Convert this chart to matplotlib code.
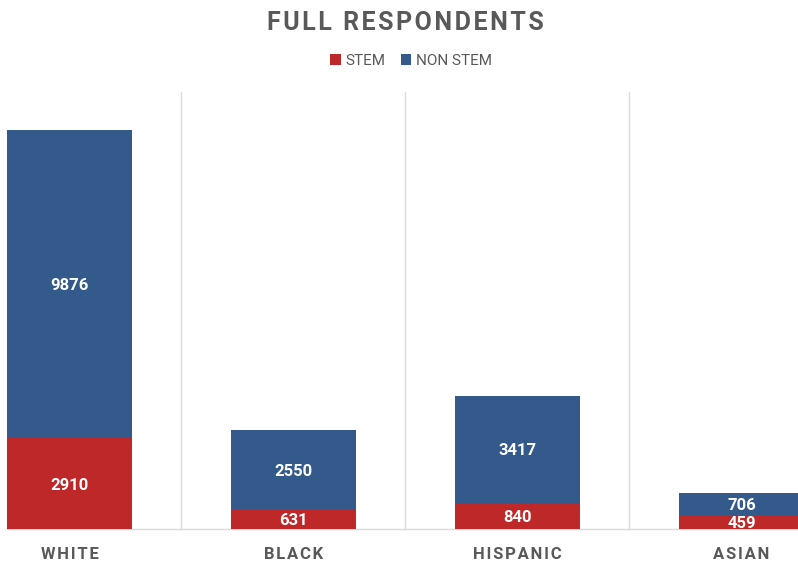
import matplotlib.pyplot as plt
import numpy as np

plt.rcParams["font.family"] = ["Roboto", "DejaVu Sans"]

groups = ["WHITE", "BLACK", "HISPANIC", "ASIAN"]
stem = [2910, 631, 840, 459]
non_stem = [9876, 2550, 3417, 706]

RED = "#BE2828"
BLUE = "#345A8C"
GRAY = "#595959"
HS = "\u200a"


def spaced(s, n=1):
    return (HS * n).join(s)


fig = plt.figure(figsize=(7.98, 5.61), dpi=100)
W, H = 798, 561
ax = fig.add_axes([7 / W, (H - 529) / H, 846.5 / W, 437 / H])

x = np.arange(len(groups))
bw = 0.558
ax.bar(x, stem, width=bw, color=RED, label="STEM", zorder=3)
ax.bar(x, non_stem, width=bw, bottom=stem, color=BLUE, label="NON STEM", zorder=3)

for xi, s, n in zip(x, stem, non_stem):
    ax.text(xi, s / 2, str(s), ha="center", va="center_baseline", color="white",
            fontsize=12, fontweight="bold", zorder=4)
    ax.text(xi, s + n / 2, str(n), ha="center", va="center_baseline", color="white",
            fontsize=12, fontweight="bold", zorder=4)

ax.set_xlim(-bw / 2, 3.5)
ax.set_ylim(0, 14000)
ax.set_yticks([])
ax.set_xticks(x)
ax.set_xticklabels([spaced(g, 1) for g in groups], fontsize=12,
                   fontweight="bold", color=GRAY)
ax.tick_params(axis="x", length=0, pad=13)
ax.set_xticks([0.5, 1.5, 2.5], minor=True)
ax.tick_params(axis="x", which="minor", length=0)
ax.grid(axis="x", which="minor", color="#D9D9D9", linewidth=1, zorder=0)
for side in ["left", "right", "top"]:
    ax.spines[side].set_visible(False)
ax.spines["bottom"].set_color("#D9D9D9")
ax.spines["bottom"].set_linewidth(1)

fig.text(405.5 / W, 1 - 20 / H, spaced("FULL RESPONDENTS", 1), ha="center",
         va="center_baseline", fontsize=18, fontweight="bold", color=GRAY)

fig.legend(loc="center", bbox_to_anchor=(411 / W, 1 - 61 / H), ncol=2,
           frameon=False, fontsize=11, labelcolor=GRAY, handlelength=0.7,
           handleheight=0.7, handletextpad=0.3, columnspacing=1.0)

fig.savefig("out.png", dpi=100)
